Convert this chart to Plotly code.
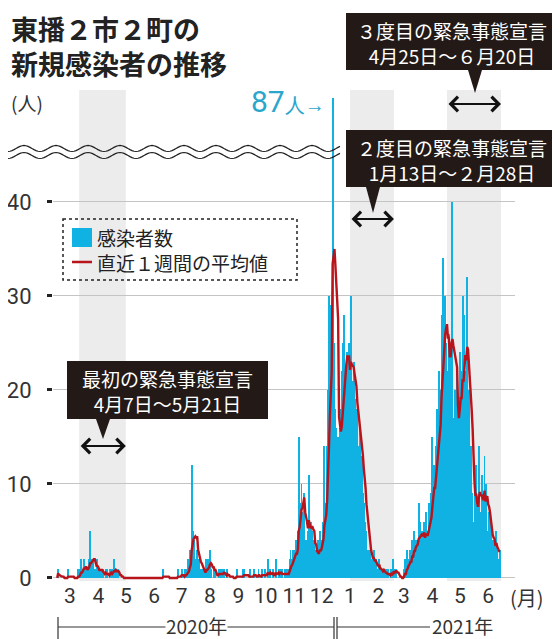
import math
import pandas as pd
import plotly.graph_objects as go

# daily new cases (east Harima, 2 cities 2 towns)
mar20 = [0, 1, 0, 0, 0, 0, 0, 0, 0, 0, 0, 0, 1, 0, 0, 0, 0, 0, 0, 0, 0, 0, 0, 1, 0, 1, 2, 0, 1, 2, 1]
apr20 = [1, 1, 0, 1, 2, 5, 1, 2, 2, 1, 1, 0, 2, 1, 1, 0, 1, 1, 0, 1, 0, 0, 1, 0, 1, 0, 0, 1, 1, 0]
may20 = [1, 2, 0, 1, 0, 1, 0, 0, 0, 0, 0, 0, 0, 0, 0, 0, 0, 0, 0, 0, 0, 0, 0, 0, 0, 0, 0, 0, 0, 0, 0]
jun20 = [0, 0, 0, 0, 0, 0, 0, 0, 0, 0, 0, 0, 0, 0, 0, 0, 0, 0, 0, 0, 0, 0, 0, 0, 1, 0, 0, 0, 0, 0]
jul20 = [0, 0, 0, 0, 0, 0, 0, 0, 0, 0, 1, 0, 0, 0, 1, 0, 0, 0, 1, 0, 1, 2, 1, 3, 2, 12, 5, 4, 3, 2, 2]
aug20 = [3, 2, 2, 0, 1, 1, 0, 1, 0, 1, 2, 1, 2, 1, 3, 1, 0, 0, 1, 0, 1, 0, 0, 0, 1, 1, 0, 1, 0, 1, 0]
sep20 = [0, 0, 1, 0, 0, 0, 0, 0, 0, 0, 0, 0, 1, 0, 0, 0, 0, 0, 0, 1, 1, 0, 0, 0, 0, 0, 0, 1, 0, 0]
oct20 = [0, 1, 0, 0, 0, 0, 1, 0, 0, 0, 1, 0, 0, 1, 0, 0, 2, 0, 0, 1, 0, 0, 1, 0, 0, 2, 0, 0, 1, 0, 1]
nov20 = [0, 1, 0, 0, 1, 0, 1, 0, 1, 2, 3, 2, 1, 3, 2, 3, 4, 3, 5, 15, 6, 8, 10, 5, 7, 9, 4, 3, 4, 5]
dec20 = [11, 4, 6, 5, 3, 2, 4, 2, 3, 1, 4, 2, 5, 3, 4, 6, 5, 14, 8, 7, 14, 20, 30, 28, 29, 26, 87, 20, 25, 18, 16]
jan21 = [12, 15, 14, 16, 18, 22, 25, 28, 24, 20, 22, 24, 22, 25, 18, 30, 18, 21, 23, 17, 19, 15, 18, 12, 14, 16, 10, 13, 9, 8, 6]
feb21 = [5, 4, 3, 3, 2, 3, 1, 2, 1, 3, 1, 2, 1, 0, 1, 2, 0, 1, 1, 0, 1, 0, 1, 0, 0, 1, 0, 0]
mar21 = [1, 0, 2, 1, 0, 1, 0, 0, 0, 0, 0, 0, 0, 0, 1, 2, 0, 3, 1, 2, 1, 3, 2, 4, 3, 5, 2, 4, 4, 3, 8]
apr21 = [4, 6, 3, 5, 2, 6, 4, 7, 5, 3, 8, 6, 9, 7, 15, 10, 12, 8, 14, 18, 13, 22, 20, 19, 28, 26, 34, 24, 30, 25]
may21 = [22, 18, 26, 20, 24, 40, 28, 17, 14, 20, 16, 22, 12, 18, 24, 22, 20, 30, 20, 28, 22, 20, 32, 18, 20, 12, 14, 9, 6, 4, 7]
jun21 = [10, 12, 8, 6, 14, 7, 4, 11, 9, 7, 13, 6, 10, 5, 5, 7, 3, 6, 2, 4, 3, 4, 2, 5, 3, 1, 2, 3]

first_day = '2020-03-01'
y_ticks = [0, 10, 20, 30, 40]

# emergency declaration periods as drawn (bands) and their captions
bands = [('2020-03-25', '2020-05-15'), ('2021-01-15', '2021-03-04'), ('2021-05-01', '2021-06-29')]
captions = ['最初の緊急事態宣言<br>4月7日～5月21日',
            '２度目の緊急事態宣言<br>1月13日～２月28日',
            '３度目の緊急事態宣言<br>4月25日～６月20日']
legend_names = ['感染者数', '直近１週間の平均値']
years = ['2020年', '2021年']

counts = mar20 + apr20 + may20 + jun20 + jul20 + aug20 + sep20 + oct20 + nov20 + dec20 + jan21 + feb21 + mar21 + apr21 + may21 + jun21
dates = pd.date_range(first_day, periods=len(counts), freq='D')
avg7 = pd.Series(counts).rolling(7, min_periods=1).mean()
month_ticks = pd.date_range('2020-03-01', '2021-06-01', freq='MS') + pd.Timedelta(days=14)

# page body has an 8px margin, so the figure is a bit smaller than the window
OFF = 8
W, H = 560 - OFF, 639 - OFF
L, R, T, B = 53 - OFF, 45, 98 - OFF, 58
JP = 'Noto Sans CJK JP'
CYAN = '#10b2e4'
RED = '#b8141c'
DARK = '#231916'


def px(x):
    return (x - OFF - L) / (W - L - R)


def py(y):
    return (H - B - (y - OFF)) / (H - T - B)


def text(s, x, y, size, color='#222', anchor='center', family=JP, bg=None):
    fig.add_annotation(text=s, x=px(x), y=py(y), xref='paper', yref='paper', showarrow=False,
                       xanchor=anchor, yanchor='middle', align=anchor if anchor != 'center' else 'center',
                       font=dict(family=family, size=size, color=color), bgcolor=bg, borderpad=0)


def line(x0, y0, x1, y1, color='#333', width=1):
    fig.add_shape(type='line', xref='paper', yref='paper', x0=px(x0), y0=py(y0), x1=px(x1), y1=py(y1),
                  line=dict(color=color, width=width))


fig = go.Figure()
fig.add_trace(go.Bar(x=dates, y=counts, marker=dict(color=CYAN, line=dict(width=0)), name=legend_names[0]))
fig.add_trace(go.Scatter(x=dates, y=avg7, mode='lines', line=dict(color=RED, width=2.4), name=legend_names[1]))

# gray bands
for b0, b1 in bands:
    fig.add_shape(type='rect', xref='x', yref='paper', x0=b0, x1=b1, y0=0, y1=py(90),
                  fillcolor='#ececec', line=dict(width=0), layer='below')

# callout boxes
boxes = [(67, 361, 268, 419), (346, 130, 557, 187), (346, 13, 560, 70)]
tips = [(103, 439), (373, 213), (475, 93)]
text_xy = [(167, 391), (452, 160), (452, 43)]
arrow_y = [446, 219, 104]
for i in range(3):
    x0, y0, x1, y1 = boxes[i]
    fig.add_shape(type='rect', xref='paper', yref='paper', x0=px(x0), y0=py(y0), x1=px(x1), y1=py(y1),
                  fillcolor=DARK, line=dict(width=0))
    tx, ty = tips[i]
    path = 'M {},{} L {},{} L {},{} Z'.format(px(tx - 7), py(y1), px(tx + 7), py(y1), px(tx), py(ty))
    fig.add_shape(type='path', xref='paper', yref='paper', path=path, fillcolor=DARK, line=dict(width=0))
    text(captions[i], text_xy[i][0], text_xy[i][1], 19, color='white')
    fig.add_annotation(x=bands[i][1], ax=bands[i][0], xref='x', axref='x', y=py(arrow_y[i]), yref='paper',
                       ay=0, ayref='pixel', text='', showarrow=True, arrowside='end+start',
                       arrowhead=4, startarrowhead=4, arrowsize=1.4, startarrowsize=1.4,
                       arrowwidth=2, arrowcolor='#111', standoff=0, startstandoff=0)

# broken-axis wave
for yc in (148.5, 155.5):
    pts = []
    for t in range(8, 342, 2):
        pts.append('{:.4f},{:.4f}'.format(px(t), py(yc + 3 * math.sin(2 * math.pi * t / 32))))
    fig.add_shape(type='path', xref='paper', yref='paper', path='M ' + ' L '.join(pts),
                  line=dict(color='#222', width=1.2))

# legend
fig.add_shape(type='rect', xref='paper', yref='paper', x0=px(63), y0=py(219), x1=px(297), y1=py(280),
              line=dict(color='#222', width=1.5, dash='dot'))
fig.add_shape(type='rect', xref='paper', yref='paper', x0=px(72), y0=py(228), x1=px(92), y1=py(247),
              fillcolor=CYAN, line=dict(width=0))
line(72, 262, 92, 262, color=RED, width=2.5)
text(legend_names[0], 96, 237, 19, anchor='left')
text(legend_names[1], 96, 262, 19, anchor='left')

# titles and labels
text('<b>東播２市２町の<br>新規感染者の推移</b>', 10, 46, 27, anchor='left')
text('(人)', 10, 102, 19, color='#333', anchor='left')
text('<span style="font-size:30px">87</span>人→', 326, 101, 20, color='#2aa6cc', anchor='right', family='Roboto')
text('(月)', 527, 597, 20, color='#333')

# year bracket
line(58, 617, 58, 639, width=1.2)
line(334, 617, 334, 639, width=1.2)
line(337, 617, 337, 639, width=1.2)
line(58, 627, 334, 627, width=1.2)
line(337, 627, 430, 627, width=1.2)
text(years[0], 196, 625, 19, color='#333', bg='white')
text(years[1], 462, 625, 19, color='#333', bg='white')

fig.update_layout(
    width=W, height=H, margin=dict(l=L, r=R, t=T, b=B, autoexpand=False),
    paper_bgcolor='white', plot_bgcolor='white', showlegend=False, bargap=0,
    xaxis=dict(type='date', range=[dates[0] - pd.Timedelta(days=4.6), dates[0] + pd.Timedelta(days=500.3)],
               tickvals=month_ticks, ticktext=[str(d.month) for d in month_ticks],
               showgrid=False, zeroline=False, showline=False, ticks='', automargin=False,
               tickfont=dict(family='Roboto', size=21, color='#333')),
    yaxis=dict(range=[-0.32, 51.06], tickvals=y_ticks, showgrid=True, gridcolor='#c4c4c4', gridwidth=1,
               zeroline=False, ticks='outside', ticklen=5, tickwidth=2.5, tickcolor='#222', automargin=False,
               ticklabelstandoff=11, tickfont=dict(family='Roboto', size=22, color='#333')),
)

fig.write_html('out.html')
